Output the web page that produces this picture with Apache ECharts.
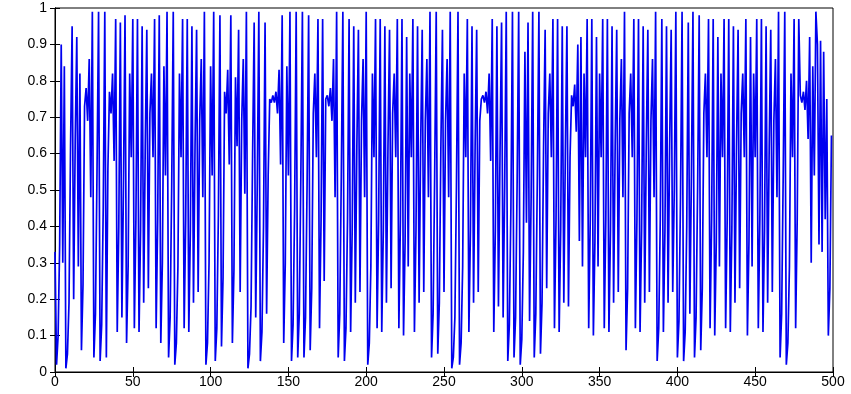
<!DOCTYPE html>
<html>
<head>
<meta charset="utf-8">
<script src="https://cdn.jsdelivr.net/npm/echarts@6/dist/echarts.min.js"></script>
<style>
  html, body { margin: 0; padding: 0; background: #fff; }
  #chart { width: 851px; height: 394px; }
</style>
</head>
<body>
<div id="chart"></div>
<script>
// values, 500 samples (index 0..499)
var row0 = [0.33,0.02,0.1,0.35,0.9,0.3,0.84,0.01,0.05,0.19,0.62,0.95,0.2,0.64,0.92,0.29,0.82,0.06,0.24,0.73,0.78,0.69,0.86,0.48,0.99,0.04,0.16,0.55,0.99,0.03,0.13,0.45,0.99,0.04,0.56,0.77,0.71,0.82,0.58,0.97,0.11,0.4,0.96,0.15,0.51,0.98,0.08,0.29,0.82,0.59];
var row1 = [0.97,0.12,0.42,0.97,0.11,0.39,0.95,0.19,0.62,0.94,0.23,0.71,0.82,0.59,0.97,0.12,0.42,0.98,0.08,0.3,0.84,0.54,0.99,0.04,0.15,0.51,0.99,0.02,0.08,0.29,0.82,0.59,0.97,0.12,0.42,0.97,0.11,0.39,0.95,0.19,0.62,0.94,0.22,0.69,0.86,0.48,0.99,0.02,0.08,0.3];
var row2 = [0.84,0.54,0.99,0.03,0.12,0.43,0.98,0.07,0.26,0.77,0.71,0.83,0.57,0.98,0.08,0.28,0.81,0.62,0.94,0.22,0.69,0.86,0.49,0.99,0.01,0.05,0.18,0.6,0.96,0.15,0.52,0.99,0.03,0.11,0.4,0.96,0.16,0.54,0.75,0.74,0.76,0.74,0.77,0.71,0.83,0.57,0.98,0.08,0.3,0.84];
var row3 = [0.54,0.99,0.03,0.13,0.45,0.99,0.04,0.16,0.54,0.99,0.04,0.15,0.51,0.98,0.06,0.23,0.71,0.82,0.59,0.97,0.12,0.42,0.97,0.25,0.75,0.76,0.73,0.78,0.69,0.86,0.48,0.99,0.04,0.16,0.54,0.99,0.03,0.12,0.42,0.97,0.11,0.39,0.95,0.19,0.62,0.94,0.22,0.69,0.86,0.48];
var row4 = [0.99,0.02,0.08,0.29,0.82,0.59,0.97,0.12,0.42,0.97,0.11,0.39,0.95,0.19,0.62,0.94,0.23,0.71,0.82,0.59,0.97,0.12,0.42,0.97,0.1,0.36,0.92,0.29,0.82,0.59,0.97,0.11,0.39,0.95,0.19,0.62,0.94,0.22,0.69,0.86,0.48,0.99,0.04,0.16,0.54,0.99,0.05,0.19,0.62,0.94];
var row5 = [0.22,0.69,0.86,0.48,0.99,0.01,0.04,0.15,0.51,0.99,0.02,0.08,0.29,0.82,0.59,0.97,0.11,0.39,0.95,0.19,0.62,0.94,0.22,0.69,0.75,0.76,0.74,0.77,0.71,0.82,0.58,0.97,0.11,0.39,0.95,0.18,0.6,0.96,0.15,0.51,0.99,0.03,0.13,0.45,0.99,0.04,0.15,0.52,0.99,0.02];
var row6 = [0.09,0.33,0.88,0.41,0.96,0.14,0.48,0.99,0.04,0.16,0.54,0.99,0.05,0.19,0.62,0.94,0.23,0.71,0.82,0.59,0.97,0.12,0.42,0.97,0.11,0.39,0.95,0.19,0.61,0.95,0.18,0.59,0.76,0.73,0.79,0.66,0.9,0.36,0.92,0.29,0.82,0.59,0.97,0.12,0.42,0.97,0.1,0.36,0.92,0.29];
var row7 = [0.82,0.59,0.97,0.12,0.42,0.97,0.11,0.39,0.95,0.19,0.62,0.94,0.22,0.69,0.86,0.48,0.99,0.06,0.23,0.71,0.82,0.59,0.97,0.12,0.42,0.97,0.11,0.39,0.95,0.19,0.62,0.94,0.22,0.69,0.86,0.48,0.99,0.03,0.12,0.42,0.97,0.11,0.39,0.95,0.19,0.62,0.94,0.22,0.5,0.99];
var row8 = [0.04,0.14,0.48,0.99,0.03,0.11,0.4,0.96,0.16,0.54,0.99,0.04,0.15,0.51,0.98,0.06,0.23,0.71,0.82,0.59,0.97,0.12,0.42,0.97,0.1,0.36,0.92,0.29,0.82,0.59,0.97,0.12,0.42,0.97,0.11,0.39,0.95,0.19,0.62,0.94,0.23,0.71,0.82,0.59,0.97,0.1,0.36,0.92,0.29,0.82];
var row9 = [0.59,0.97,0.12,0.42,0.97,0.11,0.39,0.95,0.19,0.62,0.94,0.22,0.69,0.86,0.48,0.99,0.04,0.16,0.54,0.99,0.02,0.08,0.29,0.82,0.59,0.97,0.12,0.42,0.97,0.76,0.74,0.77,0.72,0.8,0.64,0.92,0.3,0.84,0.54,0.99,0.9,0.35,0.91,0.33,0.88,0.42,0.75,0.1,0.23,0.65];

var values = [].concat(row0, row1, row2, row3, row4, row5, row6, row7, row8, row9);
var xTicks = [0, 50, 100, 150, 200, 250, 300, 350, 400, 450, 500];
var yTicks = [0, 0.1, 0.2, 0.3, 0.4, 0.5, 0.6, 0.7, 0.8, 0.9, 1];

var points = values.map(function (v, i) { return [i, v]; });

var labelFont = { color: '#000', fontSize: 14, fontFamily: 'Liberation Sans, Arial, sans-serif' };

var myChart = echarts.init(document.getElementById('chart'));
var option = {
  backgroundColor: '#fff',
  animation: false,
  grid: { left: 55, right: 18, top: 8, bottom: 22, show: true, borderColor: '#000', borderWidth: 1 },
  xAxis: [
    {
      type: 'value', min: xTicks[0], max: xTicks[xTicks.length - 1], interval: 50,
      axisLine: { show: true, lineStyle: { color: '#000' } },
      axisTick: { inside: true, length: 5, lineStyle: { color: '#000' } },
      axisLabel: Object.assign({ margin: 3 }, labelFont),
      splitLine: { show: false }
    },
    {
      type: 'value', position: 'top', min: 0, max: 500, interval: 50,
      axisLine: { show: true, lineStyle: { color: '#000' } },
      axisTick: { inside: true, length: 5, lineStyle: { color: '#000' } },
      axisLabel: { show: false },
      splitLine: { show: false }
    }
  ],
  yAxis: [
    {
      type: 'value', min: yTicks[0], max: yTicks[yTicks.length - 1], interval: 0.1,
      axisLine: { show: true, lineStyle: { color: '#000' } },
      axisTick: { inside: true, length: 5, lineStyle: { color: '#000' } },
      axisLabel: Object.assign({ margin: 8, formatter: function (v) { return +v.toFixed(1) + ''; } }, labelFont),
      splitLine: { show: false }
    },
    {
      type: 'value', position: 'right', min: 0, max: 1, interval: 0.1,
      axisLine: { show: true, lineStyle: { color: '#000' } },
      axisTick: { inside: true, length: 5, lineStyle: { color: '#000' } },
      axisLabel: { show: false },
      splitLine: { show: false }
    }
  ],
  series: [
    {
      type: 'line',
      data: points,
      showSymbol: false,
      lineStyle: { color: '#0000f0', width: 1.7 },
      itemStyle: { color: '#0000f0' }
    }
  ]
};
myChart.setOption(option);
</script>
</body>
</html>
